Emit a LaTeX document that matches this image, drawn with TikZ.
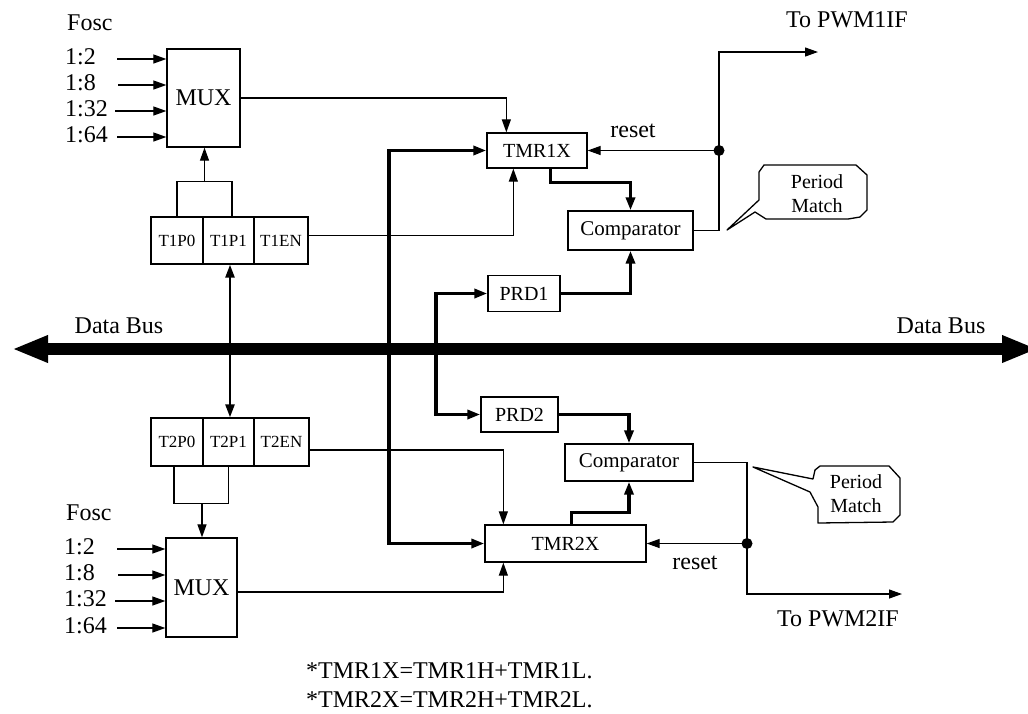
\documentclass[tikz,border=0pt]{standalone}
\usepackage{fontspec}
\setmainfont{Liberation Serif}
\usetikzlibrary{arrows.meta,calc}
\begin{document}
\begin{tikzpicture}[x=1pt,y=-1pt,
  box/.style={draw,line width=1.3pt,inner sep=0pt,font=\fontsize{20}{22}\selectfont},
  cell/.style={box,minimum height=47pt,font=\fontsize{17}{19}\selectfont},
  lbl/.style={inner sep=0pt,font=\fontsize{24}{26}\selectfont},
  small/.style={inner sep=0pt,font=\fontsize{20}{24}\selectfont,align=center},
  wire/.style={line width=1.2pt},
  busline/.style={line width=3.6pt},
  tip/.style={-{Triangle[length=13pt,width=9pt]}},
  tips/.style={{Triangle[length=13pt,width=9pt]}-{Triangle[length=13pt,width=9pt]}},
  bigtips/.style={{Triangle[length=36pt,width=25pt]}-{Triangle[length=36pt,width=25pt]}}
]
\useasboundingbox (0,0) rectangle (1028,713);

% ---------- boxes ----------
\node[box,minimum width=73pt,minimum height=98pt,font=\fontsize{24}{26}\selectfont] (mux1) at (203.5,98) {MUX};
\node[cell,minimum width=52pt] (t1p0) at (177,240.5) {T1P0};
\node[cell,minimum width=51pt] (t1p1) at (228.5,240.5) {T1P1};
\node[cell,minimum width=54pt] (t1en) at (281,240.5) {T1EN};
\node[box,minimum width=100pt,minimum height=35pt] (tmr1) at (537,150.5) {TMR1X};
\node[box,minimum width=125pt,minimum height=39pt,font=\fontsize{21}{23}\selectfont] (cmp1) at (630.5,230.5) {Comparator};
\node[box,minimum width=72pt,minimum height=36pt] (prd1) at (524,293.5) {PRD1};
\node[box,minimum width=77pt,minimum height=35pt] (prd2) at (519.5,414.5) {PRD2};
\node[box,minimum width=128pt,minimum height=37pt,font=\fontsize{21}{23}\selectfont] (cmp2) at (629,462.5) {Comparator};
\node[box,minimum width=161pt,minimum height=37pt] (tmr2) at (565.5,543.5) {TMR2X};
\node[cell,minimum width=52pt,minimum height=48pt] (t2p0) at (177,442) {T2P0};
\node[cell,minimum width=51pt,minimum height=48pt] (t2p1) at (228.5,442) {T2P1};
\node[cell,minimum width=55pt,minimum height=48pt] (t2en) at (281.5,442) {T2EN};
\node[box,minimum width=71pt,minimum height=99pt,font=\fontsize{24}{26}\selectfont] (mux2) at (201.5,587.5) {MUX};

% ---------- labels ----------
\node[lbl,anchor=west] (fosc1) at (67,23) {Fosc};
\node[lbl,anchor=west] (fosc2) at (66,513) {Fosc};
\foreach \n/\y/\t/\xs in {a/59/1:2/117, b/85/1:8/118, c/111/1:32/115, d/137/1:64/117}{
  \node[lbl,anchor=west] (in1\n) at (65,\y-2) {\t};
  \coordinate (s1\n) at (\xs,\y);
  \draw[wire,tip] (s1\n) -- (s1\n -| mux1.west);
}
\foreach \n/\y/\t/\xs in {a/549/1:2/117, b/575/1:8/118, c/601/1:32/115, d/628/1:64/117}{
  \node[lbl,anchor=west] (in2\n) at (64,\y-2) {\t};
  \coordinate (s2\n) at (\xs,\y);
  \draw[wire,tip] (s2\n) -- (s2\n -| mux2.west);
}
\node[lbl] (db1) at (119,326) {Data Bus};
\node[lbl] (db2) at (941,326) {Data Bus};
\node[lbl] (reset1) at (633,131) {reset};
\node[lbl] (reset2) at (695,563) {reset};
\node[lbl] (pwm1t) at (847,20) {To PWM1IF};
\node[lbl] (pwm2t) at (838,619) {To PWM2IF};
\node[lbl,anchor=west] (fn1) at (306,671) {*TMR1X=TMR1H+TMR1L.};
\node[lbl,anchor=west] (fn2) at (306,700) {*TMR2X=TMR2H+TMR2L.};

% ---------- data bus ----------
\coordinate (busL) at (12,349);
\coordinate (busR) at (1038,349);
\draw[line width=12pt,bigtips] (busL) -- (busR);

% ---------- T1 register / MUX1 ----------
\draw[wire] (t1p0.north) -- ++(0,-35) -| ($(t1p1.north)+(3.5,0)$);
\coordinate (b1) at (204.5,182);
\draw[wire,tip] (b1) -- (b1 |- mux1.south);
\draw[line width=2.5pt,tips] ($(t1p1.south)+(1.5,0)$) -- ($(t2p1.north)+(1.5,0)$);

\draw[wire,tip] (mux1.east) -| ($(tmr1.north west)+(20,0)$);
\draw[wire,tip] ($(t1en.east)+(0,-5)$) -| ($(tmr1.south west)+(27,0)$);

% ---------- T2 register / MUX2 ----------
\draw[wire] ($(t2p0.south)+(-3,0)$) -- ++(0,37) -| (t2p1.south);
\coordinate (b2) at (202,503);
\draw[wire,tip] (b2) -- (b2 |- mux2.north);
\draw[wire,tip] ($(t2en.east)+(0,8)$) -| ($(tmr2.north west)+(19,0)$);
\draw[wire,tip] ($(mux2.east)+(0,4.5)$) -| ($(tmr2.south west)+(19,0)$);

% ---------- thick buses ----------
\draw[busline,tips] (tmr1.west) -| (389,350) |- (tmr2.west);
\draw[busline,tips] (prd1.west) -| (436,350) |- (prd2.west);
\draw[busline,tip] ($(tmr1.south west)+(64,0)$) -- ++(0,14) -| (cmp1.north);
\draw[busline,tip] (prd1.east) -| (cmp1.south);
\draw[busline,tip] (prd2.east) -| (cmp2.north);
\draw[busline,tip] ($(tmr2.north west)+(87,0)$) -- ++(0,-12) -| (cmp2.south);

% ---------- outputs ----------
\coordinate (d1) at (719,150.5);
\coordinate (pwm1) at (818,52);
\draw[wire,tip] (cmp1.east) -| (719,52) -- (pwm1);
\fill (d1) circle (5.5pt);
\draw[wire,tip] (d1) -- (tmr1.east);

\coordinate (d2) at (747,543.5);
\coordinate (pwm2) at (902,594);
\draw[wire,tip] (cmp2.east) -| (747,594) -- (pwm2);
\fill (d2) circle (5.5pt);
\draw[wire,tip] (d2) -- (tmr2.east);

% ---------- callouts ----------
\draw[line width=1.3pt,line join=round]
  (764,165) -- (856,165) -- (867,175) -- (867,210) -- (860,217) -- (848,219)
  -- (766,219) -- (755,212) -- (727,230) -- (759,200) -- (759,172) -- cycle;
\node[small] (pm1) at (817,194) {Period\\Match};
\draw[line width=1.3pt,line join=round]
  (820,466) -- (889,466) -- (900,478) -- (900,515) -- (893,522) -- (818,523)
  -- (818,507) -- (810,492) -- (753,467) -- (813,479) -- (815,470) -- cycle;
\node[small] (pm2) at (856,494) {Period\\Match};
\end{tikzpicture}
\end{document}
